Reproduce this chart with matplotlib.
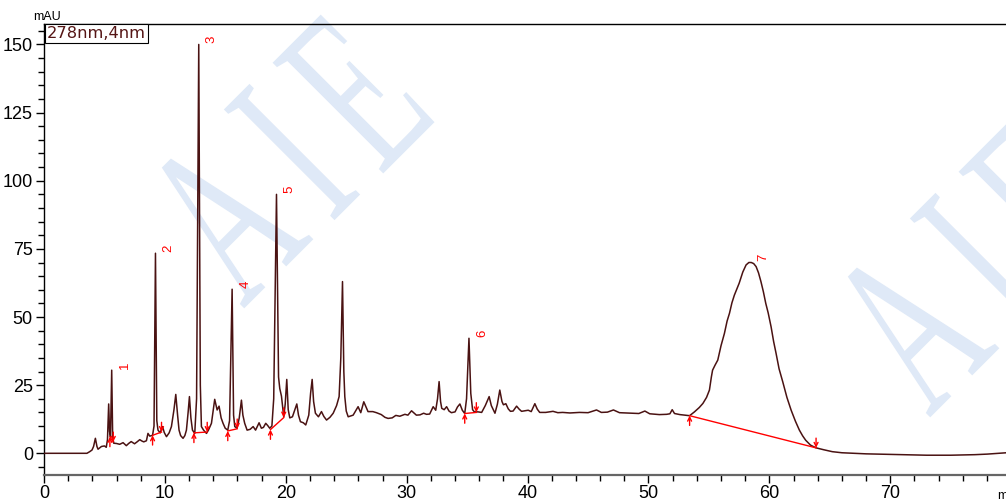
import matplotlib.pyplot as plt
from matplotlib.ticker import MultipleLocator
from matplotlib.textpath import TextPath
from matplotlib.patches import PathPatch
from matplotlib.font_manager import FontProperties
from matplotlib.transforms import Affine2D

# chromatogram trace (minutes, mAU)
time_min = [0, 3.55, 3.78, 3.97, 4.1, 4.25, 4.38, 4.47, 4.75, 5.0, 5.15, 5.25, 5.35, 5.42, 5.5, 5.6, 5.68, 5.77,
            6.0, 6.26, 6.54, 6.81, 7.0, 7.21, 7.49, 7.7, 7.92, 8.1, 8.25, 8.47, 8.6, 8.75, 8.98, 9.1, 9.22, 9.33,
            9.43, 9.61, 9.8, 9.95, 10.13, 10.35, 10.54, 10.75, 10.9, 11.05, 11.17, 11.3, 11.5, 11.65, 11.78, 11.92,
            12.03, 12.15, 12.28, 12.47, 12.62, 12.8, 12.93, 13.02, 13.2, 13.44, 13.6, 13.85, 14.12, 14.32, 14.48,
            14.65, 14.81, 14.99, 15.2, 15.35, 15.56, 15.68, 15.78, 15.97, 16.15, 16.33, 16.45, 16.6, 16.8, 17.05,
            17.3, 17.5, 17.79, 17.98, 18.15, 18.34, 18.5, 18.67, 18.85, 19.0, 19.23, 19.4, 19.5, 19.64, 19.83,
            19.95, 20.08, 20.2, 20.33, 20.55, 20.75, 20.91, 21.05, 21.21, 21.45, 21.65, 21.9, 22.05, 22.18, 22.3,
            22.45, 22.7, 22.95, 23.15, 23.37, 23.65, 23.92, 24.2, 24.41, 24.55, 24.69, 24.8, 24.88, 25.0, 25.16,
            25.57, 25.98, 26.2, 26.45, 26.8, 27.2, 27.5, 27.9, 28.2, 28.46, 28.8, 29.1, 29.43, 29.85, 30.1, 30.4,
            30.8, 31.1, 31.4, 31.64, 31.9, 32.19, 32.4, 32.55, 32.68, 32.8, 32.9, 33.1, 33.3, 33.5, 33.7, 34.0,
            34.2, 34.4, 34.6, 34.8, 34.95, 35.15, 35.3, 35.45, 35.6, 35.9, 36.2, 36.5, 36.82, 37.0, 37.3, 37.5,
            37.7, 37.88, 38.0, 38.2, 38.4, 38.58, 38.8, 39.09, 39.3, 39.5, 39.8, 40.05, 40.3, 40.6, 40.8, 41.0,
            41.5, 42.1, 42.5, 42.9, 43.5, 44.3, 45.0, 45.7, 46.1, 46.6, 47.1, 47.6, 48.2, 48.7, 49.2, 49.7, 50.1,
            50.9, 51.5, 51.77, 51.96, 52.15, 52.6, 53.0, 53.4, 53.8, 54.2, 54.5, 54.8, 55.04, 55.2, 55.3, 55.5,
            55.73, 56.0, 56.28, 56.5, 56.7, 56.9, 57.1, 57.5, 57.8, 58.07, 58.3, 58.5, 58.7, 58.9, 59.1, 59.3,
            59.5, 59.7, 59.9, 60.14, 60.35, 60.55, 60.8, 61.1, 61.45, 61.8, 62.15, 62.48, 62.75, 63.0, 63.4,
            63.86, 64.5, 65.2, 66.0, 67.0, 68.0, 69.0, 70.0, 71.0, 72.0, 73.0, 74.0, 75.0, 76.0, 77.0, 78.0,
            79.0, 79.6]
signal_mau = [0, 0, 0.6, 1.2, 2.5, 5.5, 2.5, 1.5, 2.5, 2.7, 2.2, 5, 18.1, 8, 6, 30.5, 6, 3.7,
              3.6, 3.3, 3.9, 2.8, 3.6, 4.3, 3.5, 4.2, 5.0, 4.5, 4.2, 4.6, 7.3, 6.3, 6.6, 10, 73.4, 12,
              8.5, 7.5, 9.8, 7.6, 6.1, 7.5, 9.8, 16, 21.6, 14, 8.5, 6.5, 5.5, 6.5, 8.5, 15,
              20.8, 13, 8.5, 7.3, 20, 150, 25, 9.8, 8.5, 7.3, 8.5, 11, 19.8, 15.9, 17.3,
              13, 11, 9.2, 8.5, 12, 60.2, 14, 9.8, 9.2, 13, 19.5, 14, 11, 8.5, 8.8,
              9.8, 8.5, 11.2, 9.2, 9.5, 11, 10.2, 9.2, 10, 20, 95, 28, 23.8, 21, 13.4,
              18, 27.1, 16, 13, 13.4, 16, 18.1, 14, 11.6, 11.2, 10.4, 14, 22, 27.1, 19,
              14.7, 13.4, 15.3, 13.5, 12.2, 13.2, 14.7, 17.5, 20.8, 35, 63, 30, 20.8, 15.5, 13.4,
              14, 17.1, 14.9, 18.9, 15.3, 15.3, 14.9, 14.2, 13.2, 12.8, 13.0, 13.9, 13.6, 14.3, 14.0, 15.6,
              14.0, 14.1, 14.7, 14.3, 14.4, 17.1, 15.8, 20, 26.3, 19, 16.5, 16, 17.1, 15.5, 14.9, 15.2,
              17, 18.1, 15.8, 14.6, 20, 42.2, 22, 16, 15.2, 15.2, 15.0, 17.5, 20.8, 17.5, 14.7, 18,
              23.2, 19, 17.8, 18.2, 16.3, 15.4, 15.5, 17.3, 16.2, 15.4, 15.6, 15.8, 15.3, 18.2, 16.2, 15.0,
              15.0, 15.4, 14.9, 15.0, 14.8, 15.0, 14.9, 15.9, 15.0, 15.1, 15.9, 14.9, 14.8, 14.7, 14.6, 15.5, 14.5,
              14.2, 14.3, 14.5, 16.0, 14.6, 14.2, 14.0, 13.8, 15.2, 16.8, 18.3, 20.5, 23.2, 28, 30.5, 32.3,
              34.2, 39.5, 44, 48.5, 51.4, 55.2, 58, 62.4, 66.5, 69.1, 70.0, 70, 69.6, 68.5, 66.2, 63,
              59.3, 55, 51.5, 46.4, 41, 36.7, 31, 26.3, 20.5, 15.8, 11.8, 8.5, 6.4, 4.8, 3.0,
              2.0, 1.3, 0.6, 0.2, 0.0, -0.2, -0.3, -0.4, -0.5, -0.6, -0.7, -0.7, -0.7, -0.6, -0.5, -0.3,
              0.0, 0.2]

# numbered peaks: apex time and height
peak_labels = ['1', '2', '3', '4', '5', '6', '7']
peak_time = [5.6, 9.22, 12.8, 15.56, 19.23, 35.15, 58.4]
peak_height = [30.5, 73.4, 150, 60.2, 95, 42.2, 70]

# integration baselines (start / end points)
base_start_t = [5.45, 8.98, 12.4, 15.2, 18.73, 34.8, 53.4]
base_start_y = [6.0, 6.6, 7.5, 8.2, 8.7, 14.6, 13.8]
base_end_t = [5.73, 9.72, 13.5, 15.98, 19.83, 35.76, 63.86]
base_end_y = [4.2, 7.8, 7.8, 9.0, 13.1, 15.0, 2.0]

# watermark letters and their centres in pixels (two copies)
wm_letters = ['A', 'I', 'E', 'A', 'I', 'E']
wm_x = [223, 292, 354, 909, 978, 1040]
wm_y = [218, 152, 92, 327, 261, 201]

trace_color = '#4a1212'

fig = plt.figure(figsize=(10.06, 5.01), dpi=100)
ax = fig.add_axes([44 / 1006, 26 / 501, 1 - 44 / 1006, (475 - 24) / 501])
ax.patch.set_visible(False)

serif = FontProperties(family='Liberation Serif')
for ch, cx, cy in zip(wm_letters, wm_x, wm_y):
    tp = TextPath((0, 0), ch, size=239, prop=serif)
    ext = tp.get_extents()
    tr = (Affine2D().translate(-(ext.x0 + ext.x1) / 2, -(ext.y0 + ext.y1) / 2).scale(0.58, 1)
          .rotate_deg(45).translate(cx, 501 - cy).scale(1 / 100) + fig.dpi_scale_trans)
    fig.add_artist(PathPatch(tp, transform=tr, fc='#dfe9f7', ec='none', zorder=-1))

ax.plot(time_min, signal_mau, color=trace_color, lw=1.1, zorder=3)

arrow_kw = dict(arrowstyle='->', color='red', lw=1, mutation_scale=7, shrinkA=0, shrinkB=0)
for i in range(len(base_start_t)):
    ax.plot([base_start_t[i], base_end_t[i]], [base_start_y[i], base_end_y[i]], color='red', lw=1, zorder=4)
    ax.annotate('', xy=(base_start_t[i], base_start_y[i]), xytext=(0, -7), textcoords='offset points',
                arrowprops=arrow_kw, zorder=4)
    ax.annotate('', xy=(base_end_t[i], base_end_y[i]), xytext=(0, 7), textcoords='offset points',
                arrowprops=arrow_kw, zorder=4)

for lab, t, h in zip(peak_labels, peak_time, peak_height):
    ax.annotate(lab, xy=(t, h), xytext=(9.5, 3.5), textcoords='offset points', color='red',
                fontsize=9.5, family='Liberation Sans', rotation=90, ha='center', va='center', zorder=5)

ax.set_xlim(0, 79.57)
ax.set_ylim(-7.96, 157.5)
ax.xaxis.set_major_locator(MultipleLocator(10))
ax.xaxis.set_minor_locator(MultipleLocator(2))
ax.yaxis.set_major_locator(MultipleLocator(25))
ax.yaxis.set_minor_locator(MultipleLocator(5))
ax.tick_params(which='major', length=6, width=1, labelsize=13, pad=2)
ax.tick_params(which='minor', length=4, width=1)
ax.tick_params(axis='x', which='both', pad=1.5)
for lb in ax.get_xticklabels() + ax.get_yticklabels():
    lb.set_family('Liberation Sans')
ax.spines['right'].set_visible(False)
ax.spines['bottom'].set_color('#666666')
ax.spines['bottom'].set_linewidth(1.6)
ax.spines['top'].set_linewidth(1)
ax.spines['left'].set_linewidth(1)

fig.text(47 / 1006, 1 - 17 / 501, 'mAU', ha='center', va='center', fontsize=9, family='Liberation Sans')
fig.text(997 / 1006, 1 - 496 / 501, 'min', ha='left', va='center', fontsize=9, family='Liberation Sans')
fig.text(47 / 1006, 1 - 33.5 / 501, '278nm,4nm', ha='left', va='center', fontsize=11.7, color='#551515',
         bbox=dict(boxstyle='square,pad=0.12', fc='white', ec='black', lw=0.8))

fig.savefig('out.png', dpi=100)
